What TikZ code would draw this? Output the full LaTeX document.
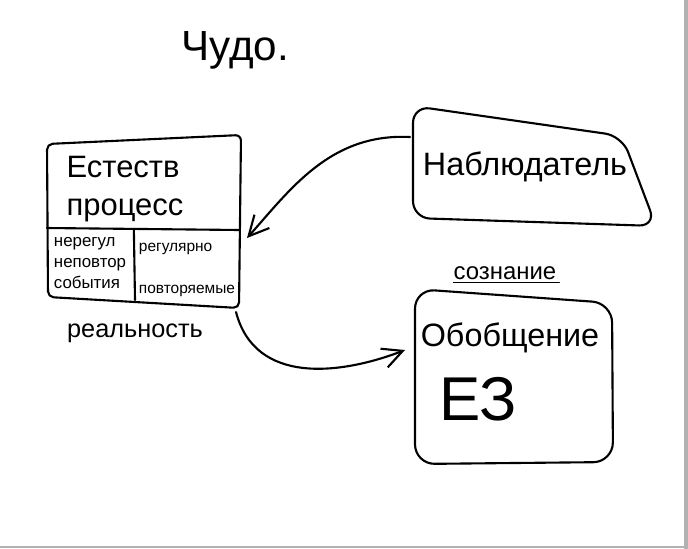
\documentclass[tikz,border=0pt]{standalone}
\usepackage{fontspec}
\setmainfont{Liberation Sans}
\usetikzlibrary{arrows.meta,calc}
\newcommand{\hsz}[1]{\fontsize{#1}{1.25\dimexpr#1pt\relax}\selectfont}
\begin{document}
\begin{tikzpicture}[x=0.025cm,y=-0.025cm,line width=1.5pt,line join=round,line cap=round,
  >={Straight Barb[length=5mm,width=5mm]}]
\useasboundingbox (0,0) rectangle (688,548);
\fill[white] (0,0) rectangle (688,548);
\draw[gray!60,line width=3pt] (686,0) -- (686,548);
\draw[gray!60,line width=2pt] (0,547) -- (688,547);
\node[font=\hsz{30}] (chudo) at (235,50) {Чудо.};
\coordinate (ltl) at (47,144);
\coordinate (ltr) at (241,135);
\coordinate (lbr) at (239,308);
\coordinate (lbl) at (48,297);
\draw[rounded corners=4pt] (ltl) -- (ltr) -- (lbr) -- (lbl) -- cycle;
\coordinate (lml) at (47,228);
\coordinate (lmr) at (240,230);
\coordinate (lmb) at (135,300);
\draw (lml) -- (lmr);
\draw ($(lml)!0.45!(lmr)$) -- (lmb);
\node[align=left,font=\hsz{22}] (proc) at (125,189) {Естеств\\процесс};
\node[align=left,font=\hsz{12}] (nereg) at (90,263) {нерегул\\неповтор\\события};
\node[align=left,font=\hsz{11}] (regul) at (187,270) {регулярно\\[16pt]повторяемые};
\node[font=\hsz{18}] (real) at (135,333) {реальность};
\draw[rounded corners=12pt] (413,106) -- (622,136) -- (656,226) -- (413,218) -- cycle;
\node[font=\hsz{23}] (nabl) at (525,167) {Наблюдатель};
\draw[rounded corners=14pt] (415,289) -- (612,303) -- (613,462) -- (415,464) -- cycle;
\node[font=\hsz{17}] (sozn) at (505,273) {сознание};
\draw[line width=1.2pt] ($(sozn.south west)+(4pt,2pt)$) -- ($(sozn.south east)+(-2pt,2pt)$);
\node[font=\hsz{23}] (obob) at (510,338) {Обобщение};
\node[font=\hsz{44}] (ez) at (478,399) {ЕЗ};
\coordinate (nablL) at (410,137);
\coordinate (procR) at (247,238);
\coordinate (procBR) at (236,312);
\coordinate (obobL) at (405,350);
\draw [->] (nablL) .. controls (330,133) and (290,190) .. (procR);
\draw [->] (procBR) .. controls (255,385) and (340,375) .. (obobL);
\end{tikzpicture}
\end{document}
